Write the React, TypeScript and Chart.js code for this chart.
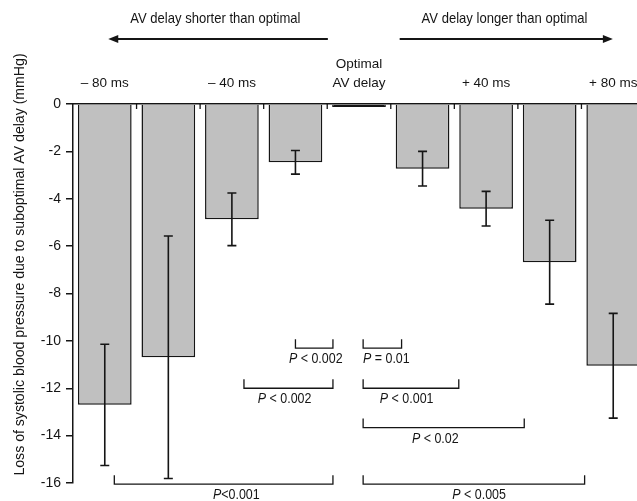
import React, { useEffect, useRef } from 'react';
import { Chart, registerables } from 'chart.js';

Chart.register(...registerables);

// ---- data ----
const delays = ['-80', '-60', '-40', '-20', '0', '+20', '+40', '+60', '+80'];
const xTickLabels: (string | string[])[] = ['– 80 ms', '', '– 40 ms', '', ['Optimal', 'AV delay'], '', '+ 40 ms', '', '+ 80 ms'];
const meanLoss = [-12.7, -10.69, -4.87, -2.46, -0.13, -2.73, -4.42, -6.68, -11.05];
const errLoss = [2.56, 5.12, 1.11, 0.5, 0, 0.73, 0.73, 1.77, 2.21];
const yMin = -16;
const yMax = 0;
const yStep = 2;
const yTitle = 'Loss of systolic blood pressure due to suboptimal AV delay (mmHg)';

// significance brackets (category-index units / mmHg)
const bracketFrom = [3.0, 2.19, 4.065, 4.065, 4.065, 0.15, 4.065];
const bracketTo = [3.59, 3.59, 4.67, 5.57, 6.6, 3.59, 7.55];
const bracketLevel = [-10.31, -12.0, -10.31, -12.0, -13.66, -16.05, -16.05];
const bracketText = [' < 0.002', ' < 0.002', ' = 0.01', ' < 0.001', ' < 0.02', '<0.001', ' < 0.005'];
const bracketLabelAt = [3.32, 2.83, 4.43, 4.75, 5.2, 2.07, 5.89];

// direction annotations
const dirText = ['AV delay shorter than optimal', 'AV delay longer than optimal'];
const dirTextAt = [1.74, 6.29];
const arrowFrom = [3.51, 4.64];
const arrowTo = [0.055, 7.995];

const FAMILY = "'Liberation Sans Narrow', 'Arial Narrow', 'Liberation Sans', Arial, sans-serif";
const INK = '#151515';

function narrowText(
  ctx: CanvasRenderingContext2D,
  parts: { t: string; italic?: boolean }[],
  cx: number,
  cy: number,
  size: number,
  sx: number
) {
  const widths = parts.map((p) => {
    ctx.font = `${p.italic ? 'italic ' : ''}${size}px ${FAMILY}`;
    return ctx.measureText(p.t).width;
  });
  const total = widths.reduce((a, b) => a + b, 0);
  ctx.save();
  ctx.translate(cx, cy);
  ctx.scale(sx, 1);
  ctx.textAlign = 'left';
  ctx.textBaseline = 'middle';
  let x = -total / 2;
  parts.forEach((p, i) => {
    ctx.font = `${p.italic ? 'italic ' : ''}${size}px ${FAMILY}`;
    ctx.fillText(p.t, x, 0);
    x += widths[i];
  });
  ctx.restore();
}

export default function App() {
  const ref = useRef<HTMLCanvasElement>(null);

  useEffect(() => {
    const canvas = ref.current;
    if (!canvas) return;

    const overlay = {
      id: 'overlay',
      afterDatasetsDraw(chart: any) {
        const ctx = chart.ctx as CanvasRenderingContext2D;
        const xs = chart.scales.x;
        const ys = chart.scales.y;
        const step = xs.getPixelForValue(1) - xs.getPixelForValue(0);
        ctx.save();
        ctx.strokeStyle = INK;
        ctx.fillStyle = INK;
        ctx.lineWidth = 1.6;

        // error bars
        meanLoss.forEach((m, i) => {
          const e = errLoss[i];
          if (!e) return;
          const x = xs.getPixelForValue(i);
          const y1 = ys.getPixelForValue(m + e);
          const y2 = ys.getPixelForValue(m - e);
          ctx.beginPath();
          ctx.moveTo(x, y1);
          ctx.lineTo(x, y2);
          ctx.moveTo(x - 4.5, y1);
          ctx.lineTo(x + 4.5, y1);
          ctx.moveTo(x - 4.5, y2);
          ctx.lineTo(x + 4.5, y2);
          ctx.stroke();
        });

        // inward category tick marks on the top axis
        ctx.lineWidth = 1.3;
        const top = chart.chartArea.top;
        for (let i = 0; i < delays.length; i++) {
          const x = xs.getPixelForValue(i) + step / 2;
          ctx.beginPath();
          ctx.moveTo(x, top);
          ctx.lineTo(x, top + 5);
          ctx.stroke();
        }

        // brackets
        const toX = (v: number) => xs.getPixelForValue(0) + v * step;
        const tickH = Math.abs(ys.getPixelForValue(0) - ys.getPixelForValue(0.38));
        ctx.lineWidth = 1.3;
        bracketLevel.forEach((lv, i) => {
          const y = ys.getPixelForValue(lv);
          const xa = toX(bracketFrom[i]);
          const xb = toX(bracketTo[i]);
          ctx.beginPath();
          ctx.moveTo(xa, y - tickH);
          ctx.lineTo(xa, y);
          ctx.lineTo(xb, y);
          ctx.lineTo(xb, y - tickH);
          ctx.stroke();
          narrowText(
            ctx,
            [{ t: 'P', italic: true }, { t: bracketText[i] }],
            toX(bracketLabelAt[i]),
            y + 11,
            15,
            0.83
          );
        });

        // direction texts and arrows
        dirText.forEach((t, i) => {
          narrowText(ctx, [{ t }], toX(dirTextAt[i]), 19, 15, 0.87);
          const xa = toX(arrowFrom[i]);
          const xb = toX(arrowTo[i]);
          const dir = Math.sign(xb - xa);
          ctx.lineWidth = 2;
          ctx.beginPath();
          ctx.moveTo(xa, 39);
          ctx.lineTo(xb - dir * 8, 39);
          ctx.stroke();
          ctx.beginPath();
          ctx.moveTo(xb, 39);
          ctx.lineTo(xb - dir * 10, 35);
          ctx.lineTo(xb - dir * 10, 43);
          ctx.closePath();
          ctx.fill();
        });

        // y-axis title
        ctx.save();
        ctx.translate(20, 264.5);
        ctx.rotate(-Math.PI / 2);
        narrowText(ctx, [{ t: yTitle }], 0, 0, 15, 0.94);
        ctx.restore();

        ctx.restore();
      },
    };

    const chart = new Chart(canvas, {
      type: 'bar',
      data: {
        labels: delays,
        datasets: [
          {
            data: meanLoss,
            backgroundColor: delays.map((d) => (d === '0' ? INK : '#c0c0c0')),
            borderColor: INK,
            borderWidth: 1.5,
            categoryPercentage: 1,
            barPercentage: 0.845,
          },
        ],
      },
      options: {
        responsive: false,
        animation: false,
        events: [],
        layout: { padding: { left: 0, right: 15, top: 0, bottom: 18 } },
        plugins: { legend: { display: false }, tooltip: { enabled: false } },
        scales: {
          x: {
            position: 'top',
            grid: { display: true, drawOnChartArea: false, drawTicks: false },
            border: { display: true, color: INK, width: 1.5 },
            ticks: {
              padding: 12,
              color: INK,
              font: { family: FAMILY, size: 13.5, lineHeight: 1.35 },
              maxRotation: 0,
              autoSkip: false,
              callback: (_v: any, i: number) => xTickLabels[i],
            },
            afterFit: (s: any) => {
              s.height = 104;
            },
          },
          y: {
            min: yMin,
            max: yMax,
            ticks: { stepSize: yStep, padding: 5, color: INK, font: { family: FAMILY, size: 14 } },
            grid: { drawOnChartArea: false, tickLength: 7, color: INK, lineWidth: 1.5 },
            border: { color: INK, width: 1.5 },
            afterFit: (s: any) => {
              s.width = 73;
            },
          },
        },
      },
      plugins: [overlay],
    } as any);

    return () => chart.destroy();
  }, []);

  return (
    <div
      style={{
        position: 'absolute',
        left: 0,
        top: 0,
        width: 637,
        height: 501,
        overflow: 'hidden',
        background: '#fff',
      }}
    >
      <canvas ref={ref} width={660} height={501} style={{ display: 'block' }} />
    </div>
  );
}
